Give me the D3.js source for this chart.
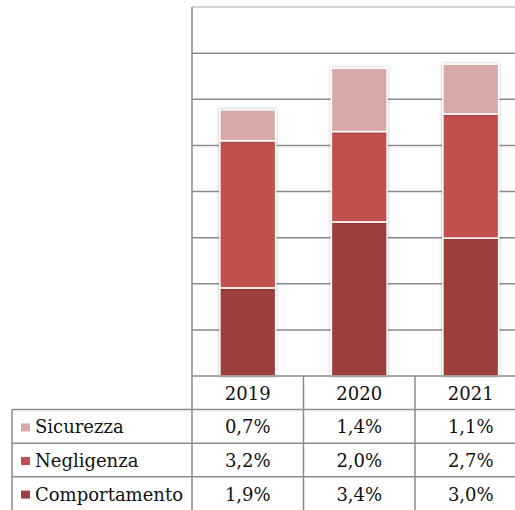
<!DOCTYPE html>
<html>
<head>
<meta charset="utf-8">
<script src="https://cdn.jsdelivr.net/npm/d3@7"></script>
<style>
  body { margin: 0; background: #fff; }
  svg { display: block; }
</style>
</head>
<body>
<script>
// data (bar heights, table shows rounded labels)
var years = ["2019", "2020", "2021"];
var series = ["Sicurezza", "Negligenza", "Comportamento"];
var sicurezza = [0.67, 1.37, 1.08];
var negligenza = [3.19, 1.96, 2.69];
var comportamento = [1.91, 3.34, 2.99];
var labels = {
  "Sicurezza": ["0,7%", "1,4%", "1,1%"],
  "Negligenza": ["3,2%", "2,0%", "2,7%"],
  "Comportamento": ["1,9%", "3,4%", "3,0%"]
};
var yTicks = [0, 1, 2, 3, 4, 5, 6, 7, 8];

var colors = {
  "Sicurezza": "#d9a9a9",
  "Negligenza": "#c0504d",
  "Comportamento": "#9c3f3e"
};

var w = 515, h = 510;
var plotLeft = 192, plotTop = 7, plotBottom = 376;
var rowH = 33.6;

var rows = years.map(function(y, i) {
  return { year: y, Comportamento: comportamento[i], Negligenza: negligenza[i], Sicurezza: sicurezza[i] };
});

var svg = d3.select("body").append("svg")
  .attr("width", w)
  .attr("height", h);

var defs = svg.append("defs");
var f = defs.append("filter").attr("id", "sh")
  .attr("x", "-20%").attr("y", "-20%").attr("width", "140%").attr("height", "140%");
f.append("feDropShadow").attr("dx", 0).attr("dy", 0).attr("stdDeviation", 1.6)
  .attr("flood-color", "#000").attr("flood-opacity", 0.3);

var x = d3.scaleBand()
  .domain(years)
  .range([plotLeft, plotLeft + 3 * 111.5])
  .paddingInner(0)
  .paddingOuter(0);

var y = d3.scaleLinear()
  .domain([0, 8])
  .range([plotBottom, plotTop]);

var grid = "#8a8a8a";

// gridlines
svg.append("g").selectAll("line")
  .data(yTicks.filter(function(d) { return d > 0 && d < 8; }))
  .enter().append("line")
  .attr("x1", plotLeft).attr("x2", w)
  .attr("y1", function(d) { return y(d); })
  .attr("y2", function(d) { return y(d); })
  .attr("stroke", grid)
  .attr("stroke-width", 1.5);

// top border
svg.append("line")
  .attr("x1", plotLeft).attr("x2", w)
  .attr("y1", y(8)).attr("y2", y(8))
  .attr("stroke", "#c8c8c8").attr("stroke-width", 1.5);

// stacked bars
var stack = d3.stack().keys(["Comportamento", "Negligenza", "Sicurezza"]);
var stacked = stack(rows);
var barW = x.bandwidth() * 0.5;

svg.append("g").selectAll("g")
  .data(stacked)
  .enter().append("g")
  .attr("fill", function(d) { return colors[d.key]; })
  .selectAll("rect")
  .data(function(d) { return d; })
  .enter().append("rect")
  .attr("x", function(d) { return x(d.data.year) + (x.bandwidth() - barW) / 2; })
  .attr("y", function(d) { return y(d[1]); })
  .attr("width", barW)
  .attr("height", function(d) { return y(d[0]) - y(d[1]); })
  .attr("stroke", "#fff")
  .attr("stroke-width", 1.5)
  .attr("filter", "url(#sh)");

// left axis line
svg.append("line")
  .attr("x1", plotLeft).attr("x2", plotLeft)
  .attr("y1", plotTop).attr("y2", h)
  .attr("stroke", grid).attr("stroke-width", 1.5);

// table
var tb = svg.append("g").attr("stroke", grid).attr("stroke-width", 1.5);
tb.append("line").attr("x1", plotLeft).attr("x2", w)
  .attr("y1", plotBottom).attr("y2", plotBottom);
[1, 2, 3].forEach(function(r) {
  tb.append("line").attr("x1", 12).attr("x2", w)
    .attr("y1", plotBottom + r * rowH).attr("y2", plotBottom + r * rowH);
});
years.forEach(function(yr, i) {
  if (i > 0) {
    tb.append("line").attr("x1", x(yr)).attr("x2", x(yr))
      .attr("y1", plotBottom).attr("y2", h);
  }
});
tb.append("line").attr("x1", 12).attr("x2", 12)
  .attr("y1", plotBottom + rowH).attr("y2", h);

var font = "'DejaVu Serif', serif";
var fs = "18px";

svg.append("g").selectAll("text")
  .data(years)
  .enter().append("text")
  .attr("x", function(d) { return x(d) + x.bandwidth() / 2; })
  .attr("y", plotBottom + rowH / 2 + 7)
  .attr("text-anchor", "middle")
  .attr("font-family", font)
  .attr("font-size", fs)
  .attr("fill", "#111")
  .text(function(d) { return d; });

series.forEach(function(s, r) {
  var cy = plotBottom + (r + 1) * rowH + rowH / 2;
  svg.append("rect")
    .attr("x", 21).attr("y", cy - 3)
    .attr("width", 9).attr("height", 8)
    .attr("fill", colors[s]);
  svg.append("text")
    .attr("x", 35).attr("y", cy + 7)
    .attr("font-family", font)
    .attr("font-size", fs)
    .attr("fill", "#111")
    .text(s);
  svg.append("g").selectAll("text")
    .data(labels[s])
    .enter().append("text")
    .attr("x", function(d, i) { return x(years[i]) + x.bandwidth() / 2; })
    .attr("y", cy + 7)
    .attr("text-anchor", "middle")
    .attr("font-family", font)
    .attr("font-size", fs)
    .attr("fill", "#111")
    .text(function(d) { return d; });
});
</script>
</body>
</html>
